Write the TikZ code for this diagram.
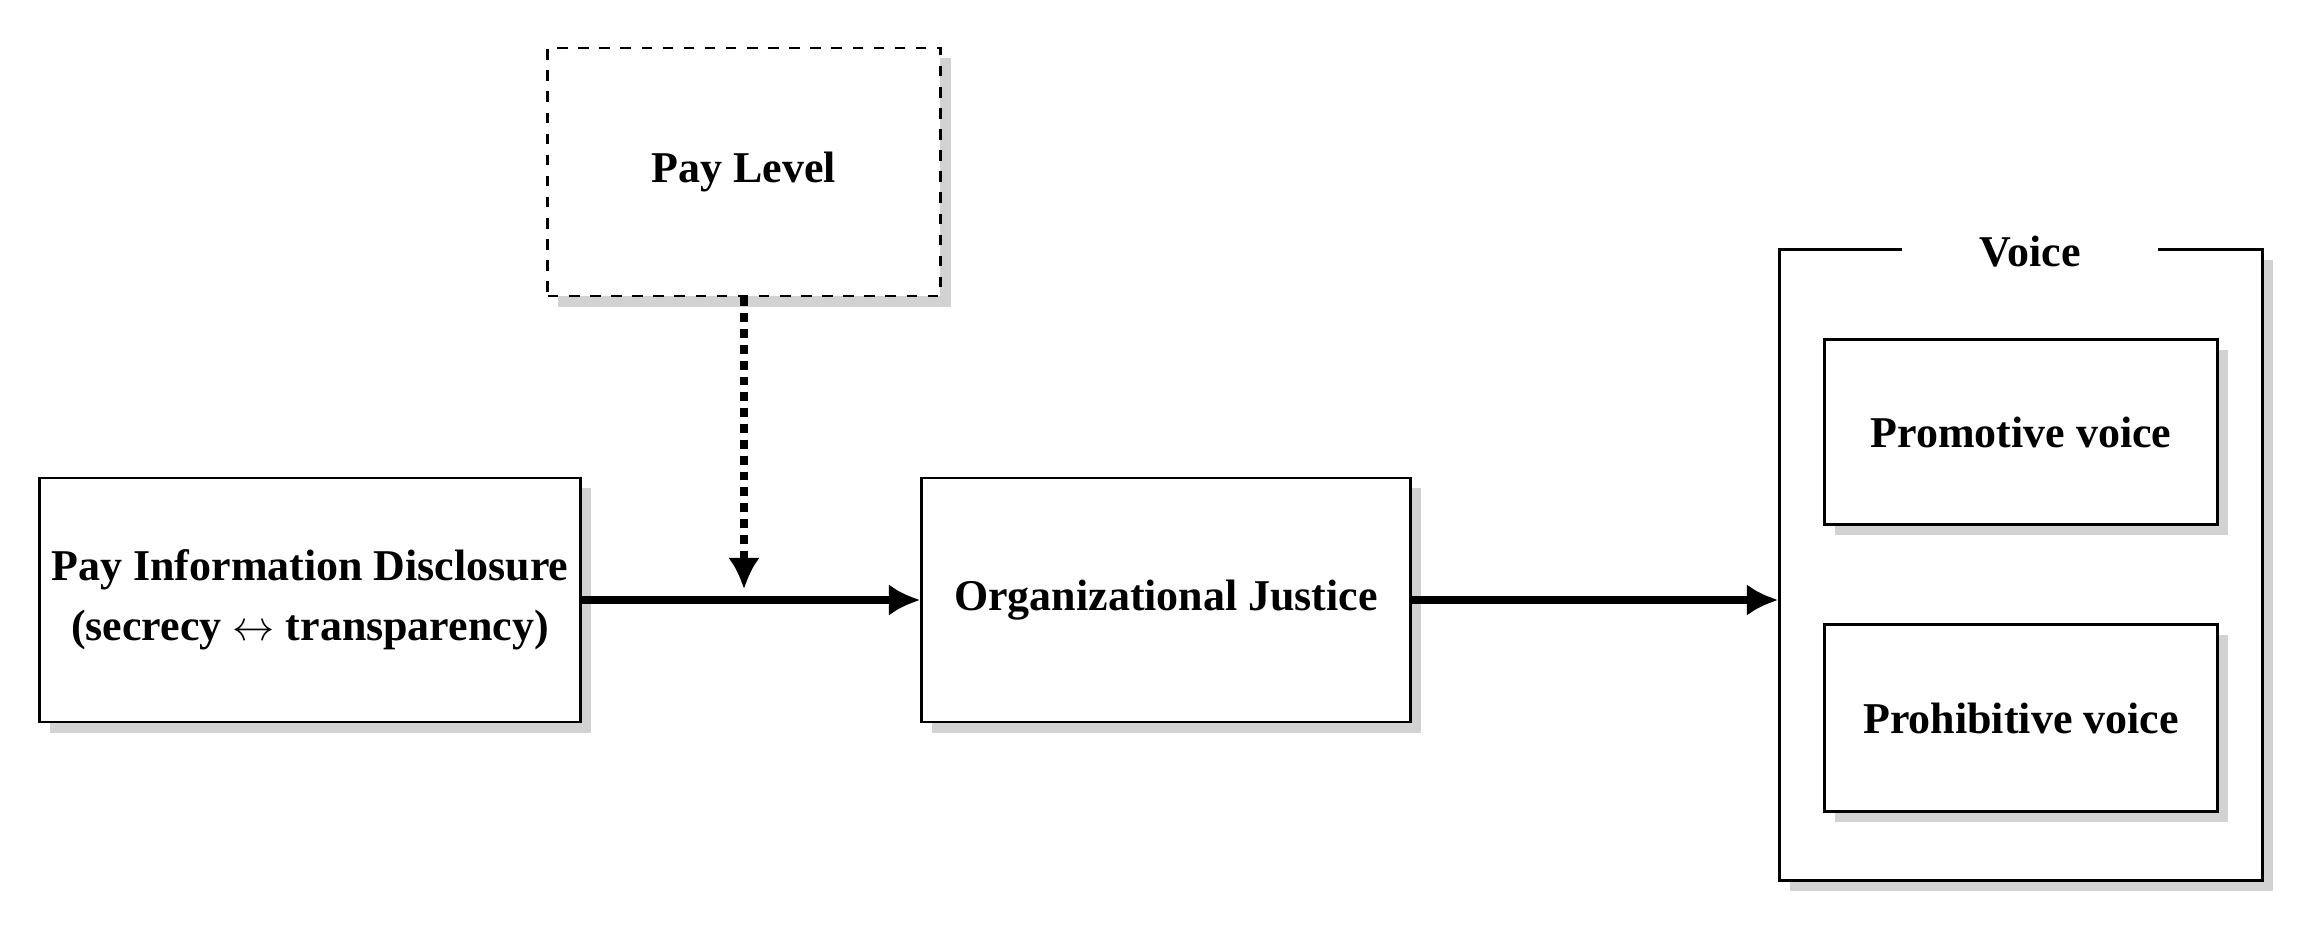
\documentclass[tikz,border=0pt]{standalone}
\usepackage{fontspec}
\setmainfont{Liberation Serif}
\usetikzlibrary{positioning, shadows, arrows.meta}
\tikzset{
  box/.style={draw, thick, fill=white, font=\bfseries\fontsize{12.5}{17}\selectfont, align=center,
    drop shadow={shadow xshift=3pt, shadow yshift=-3pt, fill=gray!35, opacity=1}},
  flow/.style={line width=2.5pt, -{Latex[length=9pt,width=9pt]}}
}
\begin{document}
\begin{tikzpicture}[x=0.01cm, y=-0.01cm]
  \useasboundingbox (0,0) rectangle (2314,948);
  % voice frame
  \node[box, minimum width=4.82cm, minimum height=6.3cm] (voice) at (2021,565) {};
  \node[fill=white, font=\bfseries\fontsize{12.5}{17}\selectfont, inner xsep=22pt] (vtitle) at (2030,252) {Voice};
  \node[box, minimum width=3.93cm, minimum height=1.85cm] (prom) at (2021,432) {Promotive voice};
  \node[box, minimum width=3.93cm, minimum height=1.87cm] (proh) at (2021,718) {Prohibitive voice};
  % left boxes
  \node[box, minimum width=5.25cm, minimum height=2.44cm] (pid) at (310,600)
    {Pay Information Disclosure\\(secrecy $\leftrightarrow$ transparency)};
  \node[box, minimum width=4.88cm, minimum height=2.44cm] (oj) at (1166,600) {Organizational Justice};
  \node[box, dashed, minimum width=3.92cm, minimum height=2.48cm] (pay) at (744,172) {Pay Level};
  \coordinate (mod) at (744,600);
  % arrows
  \draw[flow] (pid) -- (oj);
  \draw[flow] (oj) -- (oj -| voice.west);
  \draw[line width=2.5pt, dotted, -{Latex[length=9pt,width=9pt]}] (pay) -- ([yshift=3pt]mod);
\end{tikzpicture}
\end{document}
